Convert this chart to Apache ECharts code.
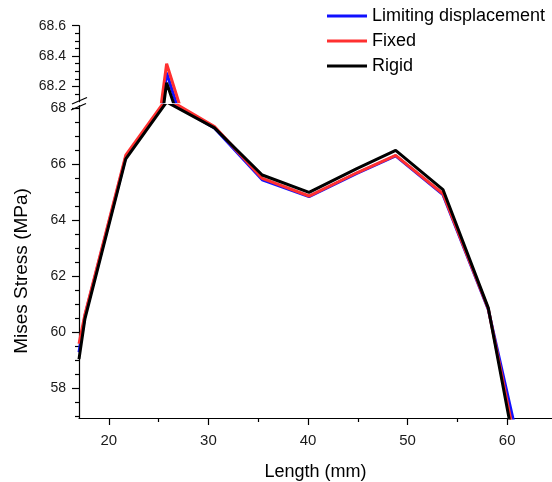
<!DOCTYPE html>
<html>
<head>
<meta charset="utf-8">
<script src="https://cdn.jsdelivr.net/npm/echarts@6/dist/echarts.min.js"></script>
<style>
html,body{margin:0;padding:0;background:#fff;}
#chart{width:552px;height:482px;}
</style>
</head>
<body>
<div id="chart"></div>
<script>
// ---- data ----
const lengths = [17.0, 17.6, 21.7, 25.8, 30.6, 35.4, 40.1, 44.9, 48.8, 53.55, 58.1, 62.7];
const limitingDisplacement = [59.3, 60.6, 66.27, 68.29, 67.3, 65.45, 64.85, 65.68, 66.3, 64.92, 60.82, 53.6];
const fixedSupport = [59.6, 60.65, 66.33, 68.35, 67.35, 65.5, 64.87, 65.7, 66.32, 64.95, 60.85, 52.8];
const rigidSupport = [59.05, 60.5, 66.2, 68.225, 67.3, 65.62, 65.0, 65.85, 66.5, 65.1, 60.88, 52.2];
const seriesNames = ['Limiting displacement', 'Fixed', 'Rigid'];

const xTickLabels = [20, 30, 40, 50, 60];
const xMinorTicks = [25, 35, 45, 55];
const yLowerLabels = [58, 60, 62, 64, 66, 68];
const yLowerMinor = [57, 57.5, 58.5, 59, 59.5, 60.5, 61, 61.5, 62.5, 63, 63.5, 64.5, 65, 65.5, 66.5, 67, 67.5];
const yUpperLabels = [68.2, 68.4, 68.6];
const yUpperMinor = [68.15, 68.25, 68.3, 68.35, 68.45, 68.5, 68.55];

const X_MIN = 17, X_MAX = 64.5;
const LOW_MIN = 56.95, LOW_MAX = 68.1;
const UP_MIN = 68.1, UP_MAX = 68.6;

const FONT = 'Liberation Sans, Arial, Helvetica, sans-serif';
const colors = ['#1010ff', '#ff3030', '#000000'];
const widths = [3, 3, 3];
const datasets = [limitingDisplacement, fixedSupport, rigidSupport];

function pairs(vals) { return lengths.map((x, i) => [x, vals[i]]); }

const chart = echarts.init(document.getElementById('chart'), null, {renderer: 'canvas'});

const axisLineStyle = {color: '#000', width: 1.2};

const series = [];
[0, 1].forEach(g => {
  datasets.forEach((vals, i) => {
    series.push({
      name: seriesNames[i],
      type: 'line',
      xAxisIndex: g === 0 ? 0 : 2,
      yAxisIndex: g === 0 ? 0 : 2,
      data: pairs(vals),
      symbol: 'none',
      showSymbol: false,
      clip: true,
      animation: false,
      lineStyle: {color: colors[i], width: widths[i]},
      itemStyle: {color: colors[i]},
      z: 2 + i
    });
  });
});

const option = {
  backgroundColor: '#fff',
  animation: false,
  textStyle: {fontFamily: FONT},
  grid: [
    {left: 79, top: 105.5, width: 473, height: 312.5, containLabel: false, outerBoundsMode: 'none'},
    {left: 79, top: 25.7, width: 473, height: 76, containLabel: false, outerBoundsMode: 'none'}
  ],
  legend: {
    orient: 'vertical',
    left: 327,
    top: 7,
    padding: 0,
    icon: 'rect',
    itemWidth: 40,
    itemHeight: 3,
    itemGap: 7,
    data: seriesNames,
    textStyle: {fontSize: 18, color: '#000', fontFamily: FONT},
    selectedMode: false
  },
  xAxis: [
    {
      gridIndex: 0, type: 'value', min: X_MIN, max: X_MAX, position: 'bottom',
      name: 'Length (mm)', nameLocation: 'middle', nameGap: 45,
      nameTextStyle: {fontSize: 18, color: '#000', fontFamily: FONT},
      axisLine: {show: true, lineStyle: axisLineStyle},
      axisTick: {show: true, inside: false, length: 7, customValues: xTickLabels, lineStyle: axisLineStyle},
      axisLabel: {show: true, customValues: xTickLabels, fontSize: 15, color: '#1a1a1a', margin: 15, fontFamily: FONT},
      splitLine: {show: false}
    },
    {
      gridIndex: 0, type: 'value', min: X_MIN, max: X_MAX, position: 'bottom',
      axisLine: {show: false},
      axisTick: {show: true, inside: false, length: 4, customValues: xMinorTicks, lineStyle: axisLineStyle},
      axisLabel: {show: false},
      splitLine: {show: false}
    },
    {
      gridIndex: 1, type: 'value', min: X_MIN, max: X_MAX, show: false,
      splitLine: {show: false}
    }
  ],
  yAxis: [
    {
      gridIndex: 0, type: 'value', min: LOW_MIN, max: LOW_MAX, position: 'left',
      axisLine: {show: true, lineStyle: axisLineStyle},
      axisTick: {show: true, inside: false, length: 7, customValues: yLowerLabels, lineStyle: axisLineStyle},
      axisLabel: {show: true, customValues: yLowerLabels, fontSize: 14, color: '#1a1a1a', margin: 13, fontFamily: FONT},
      splitLine: {show: false}
    },
    {
      gridIndex: 0, type: 'value', min: LOW_MIN, max: LOW_MAX, position: 'left',
      axisLine: {show: false},
      axisTick: {show: true, inside: false, length: 4, customValues: yLowerMinor, lineStyle: axisLineStyle},
      axisLabel: {show: false},
      splitLine: {show: false}
    },
    {
      gridIndex: 1, type: 'value', min: UP_MIN, max: UP_MAX, position: 'left',
      axisLine: {show: true, lineStyle: axisLineStyle},
      axisTick: {show: true, inside: false, length: 7, customValues: yUpperLabels, lineStyle: axisLineStyle},
      axisLabel: {show: true, customValues: yUpperLabels, fontSize: 14, color: '#1a1a1a', margin: 13, fontFamily: FONT},
      splitLine: {show: false}
    },
    {
      gridIndex: 1, type: 'value', min: UP_MIN, max: UP_MAX, position: 'left',
      axisLine: {show: false},
      axisTick: {show: true, inside: false, length: 4, customValues: yUpperMinor, lineStyle: axisLineStyle},
      axisLabel: {show: false},
      splitLine: {show: false}
    }
  ],
  graphic: [
    {type: 'text', rotation: Math.PI / 2, x: 22, y: 271,
     style: {text: 'Mises Stress (MPa)', fontSize: 19, fill: '#000', fontFamily: FONT, textAlign: 'center', textVerticalAlign: 'middle'}},
    {type: 'line', shape: {x1: 72, y1: 104, x2: 87, y2: 97.5}, style: {stroke: '#000', lineWidth: 1.2}, z: 10},
    {type: 'line', shape: {x1: 71, y1: 110, x2: 86, y2: 103.5}, style: {stroke: '#000', lineWidth: 1.2}, z: 10}
  ],
  series: series
};
chart.setOption(option);
</script>
</body>
</html>
